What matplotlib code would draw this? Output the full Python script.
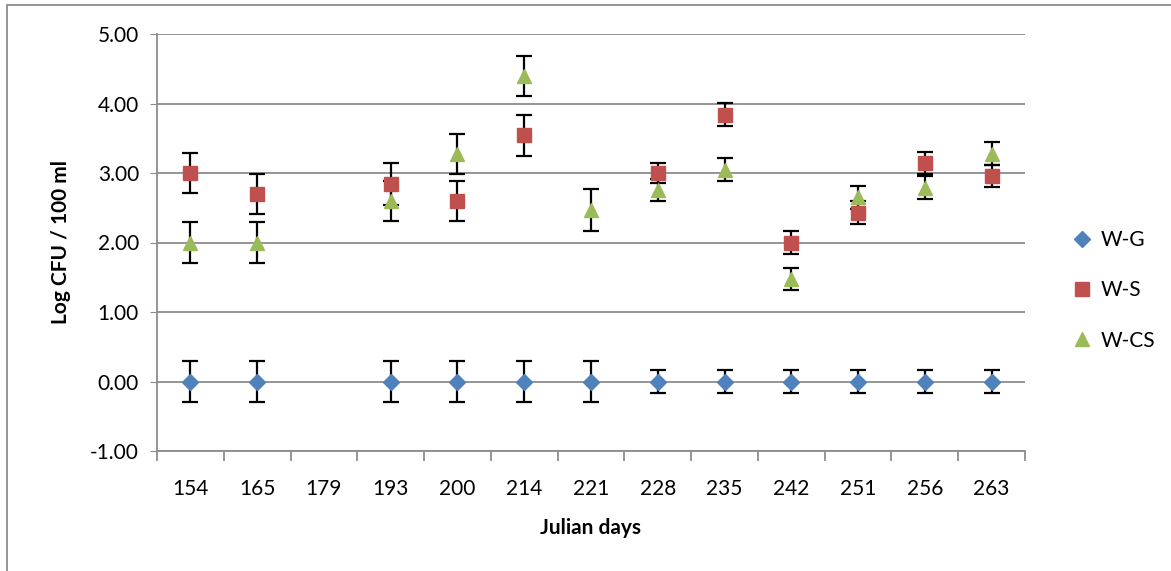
import numpy as np
import matplotlib.pyplot as plt
from matplotlib.patches import Rectangle

plt.rcParams['font.family'] = ['Lato', 'DejaVu Sans']

# Данные
days = ['154', '165', '179', '193', '200', '214', '221', '228', '235', '242', '251', '256', '263']

wg = [0, 0, np.nan, 0, 0, 0, 0, 0, 0, 0, 0, 0, 0]
wg_err = [0.29, 0.29, np.nan, 0.29, 0.29, 0.29, 0.30, 0.16, 0.16, 0.16, 0.16, 0.16, 0.16]

ws = [3.00, 2.70, np.nan, 2.84, 2.60, 3.54, np.nan, 3.00, 3.84, 2.00, 2.43, 3.14, 2.96]
ws_err = [0.29, 0.29, np.nan, 0.30, 0.29, 0.29, np.nan, 0.15, 0.17, 0.16, 0.17, 0.16, 0.16]

wcs = [2.00, 2.00, np.nan, 2.60, 3.27, 4.40, 2.47, 2.76, 3.05, 1.47, 2.65, 2.79, 3.28]
wcs_err = [0.29, 0.29, np.nan, 0.29, 0.29, 0.29, 0.30, 0.16, 0.16, 0.16, 0.17, 0.16, 0.16]

fig = plt.figure(figsize=(11.71, 5.71), dpi=100)
ax = fig.add_axes([157 / 1171, 1 - 451 / 571, (1025 - 157) / 1171, (451 - 34) / 571])

x = np.arange(len(days))

series = [
    (wg, wg_err, 'W-G', 'D', '#4F81BD', 8),
    (ws, ws_err, 'W-S', 's', '#C0504D', 10),
    (wcs, wcs_err, 'W-CS', '^', '#9BBB59', 10),
]

for vals, errs, name, mk, col, ms in series:
    ax.errorbar(x, vals, yerr=errs, fmt='none', ecolor='black', elinewidth=1.6,
                capsize=6, capthick=1.6, zorder=3)
    ax.plot(x, vals, linestyle='none', marker=mk, color=col, markersize=ms,
            label=name, zorder=4)

ax.set_xlim(-0.5, len(days) - 0.5)
ax.set_ylim(-1, 5)
ax.set_yticks(np.arange(-1, 6, 1))
ax.set_yticklabels(['%.2f' % v for v in np.arange(-1, 6, 1)])
ax.set_xticks(x)
ax.set_xticklabels(days)
ax.set_xticks(np.arange(-0.5, len(days), 1), minor=True)

ax.grid(axis='y', color='#8c8c8c', linewidth=1.3)
ax.set_axisbelow(True)

for s in ['top', 'right']:
    ax.spines[s].set_visible(False)
ax.spines['left'].set_color('#8c8c8c')
ax.spines['bottom'].set_color('#8c8c8c')
ax.spines['left'].set_linewidth(1.3)
ax.spines['bottom'].set_linewidth(1.3)

ax.tick_params(axis='y', length=5, color='#8c8c8c', labelsize=15, pad=8)
ax.tick_params(axis='x', which='major', length=0, labelsize=15, pad=20)
ax.tick_params(axis='x', which='minor', length=7, color='#8c8c8c', width=1.3)

ax.set_xlabel('Julian days', fontsize=15, fontweight='bold', labelpad=14)
ax.set_ylabel('Log CFU / 100 ml', fontsize=15, fontweight='bold', labelpad=14)

ax.legend(loc='center left', bbox_to_anchor=(1.03, 0.385), frameon=False,
          fontsize=15, handletextpad=0.3, labelspacing=1.45, handlelength=1.2)

# Рамка
fig.patches.append(Rectangle((7 / 1171, -0.1), 1.2, 1 - 5 / 571 + 0.1,
                             transform=fig.transFigure, fill=False,
                             edgecolor='#8c8c8c', linewidth=1.3))

fig.savefig('out.png', dpi=100)
